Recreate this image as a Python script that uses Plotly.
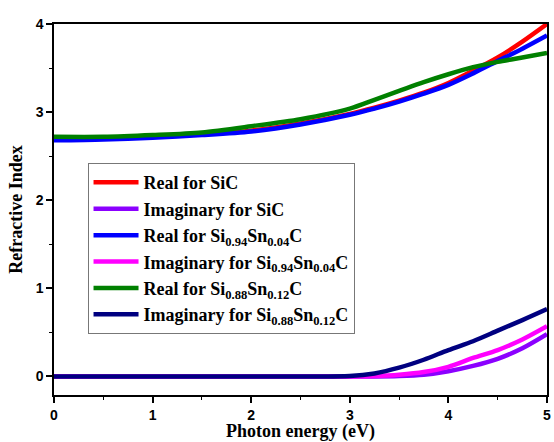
import plotly.graph_objects as go

# Photon energy grid (eV)
energy = [0, 0.5, 1.0, 1.5, 2.0, 2.5, 3.0, 3.25, 3.5, 3.75, 4.0, 4.25, 4.5, 4.75, 5.0]

# Real parts of the refractive index
real_sic = [2.69, 2.70, 2.72, 2.75, 2.79, 2.87, 2.98, 3.05, 3.13, 3.22, 3.33, 3.47, 3.62, 3.80, 4.00]
real_sn004 = [2.68, 2.69, 2.71, 2.74, 2.78, 2.86, 2.97, 3.04, 3.12, 3.21, 3.31, 3.44, 3.58, 3.72, 3.87]
real_sn012 = [2.72, 2.72, 2.74, 2.77, 2.84, 2.92, 3.04, 3.14, 3.24, 3.34, 3.43, 3.51, 3.57, 3.62, 3.67]

# Imaginary parts of the refractive index
imag_sic = [0, 0, 0, 0, 0, 0, 0, 0.0, 0.005, 0.02, 0.06, 0.12, 0.20, 0.32, 0.48]
imag_sn004 = [0, 0, 0, 0, 0, 0, 0, 0.005, 0.02, 0.05, 0.11, 0.21, 0.30, 0.42, 0.57]
imag_sn012 = [0, 0, 0, 0, 0, 0, 0.005, 0.035, 0.10, 0.19, 0.30, 0.40, 0.52, 0.64, 0.765]

series = [
    ("Real for SiC", real_sic, "#ff0000"),
    ("Imaginary for SiC", imag_sic, "#8b00ff"),
    ("Real for Si<sub>0.94</sub>Sn<sub>0.04</sub>C", real_sn004, "#0000ff"),
    ("Imaginary for Si<sub>0.94</sub>Sn<sub>0.04</sub>C", imag_sn004, "#ff00ff"),
    ("Real for Si<sub>0.88</sub>Sn<sub>0.12</sub>C", real_sn012, "#008000"),
    ("Imaginary for Si<sub>0.88</sub>Sn<sub>0.12</sub>C", imag_sn012, "#000080"),
]

fig = go.Figure()
for name, vals, color in series:
    fig.add_trace(go.Scatter(
        x=energy, y=vals, name=name, mode="lines",
        line=dict(color=color, width=4.5, shape="spline", smoothing=0.8),
    ))

axis_common = dict(
    showline=True, linecolor="black", linewidth=1.5, mirror=True,
    ticks="outside", ticklen=6, tickwidth=1.5, tickcolor="black",
    showgrid=False, zeroline=False,
    tickfont=dict(family="Liberation Sans", size=14, color="black", weight="bold"),
    minor=dict(ticks="outside", ticklen=3, tickwidth=1.2, tickcolor="black", showgrid=False),
)

fig.update_xaxes(
    range=[0, 5], tick0=0, dtick=1, minor_dtick=0.5,
    title=dict(text="Photon energy (eV)", standoff=4,
               font=dict(family="Liberation Serif", size=18, color="black", weight="bold")),
    **axis_common,
)
fig.update_yaxes(
    range=[-0.21, 4.0], tick0=0, dtick=1, minor_dtick=0.5,
    title=dict(text="Refractive Index", standoff=8,
               font=dict(family="Liberation Serif", size=18, color="black", weight="bold")),
    **axis_common,
)

fig.update_layout(
    width=554, height=442,
    margin=dict(l=54, r=3, t=24, b=47),
    plot_bgcolor="white", paper_bgcolor="white",
    legend=dict(
        x=0.068, y=0.625, xanchor="left", yanchor="top",
        bgcolor="white", bordercolor="#777777", borderwidth=1,
        font=dict(family="Liberation Serif", size=18, color="black", weight="bold"),
        tracegroupgap=0, itemwidth=45,
    ),
    showlegend=True,
)

fig.write_html("out.html")
